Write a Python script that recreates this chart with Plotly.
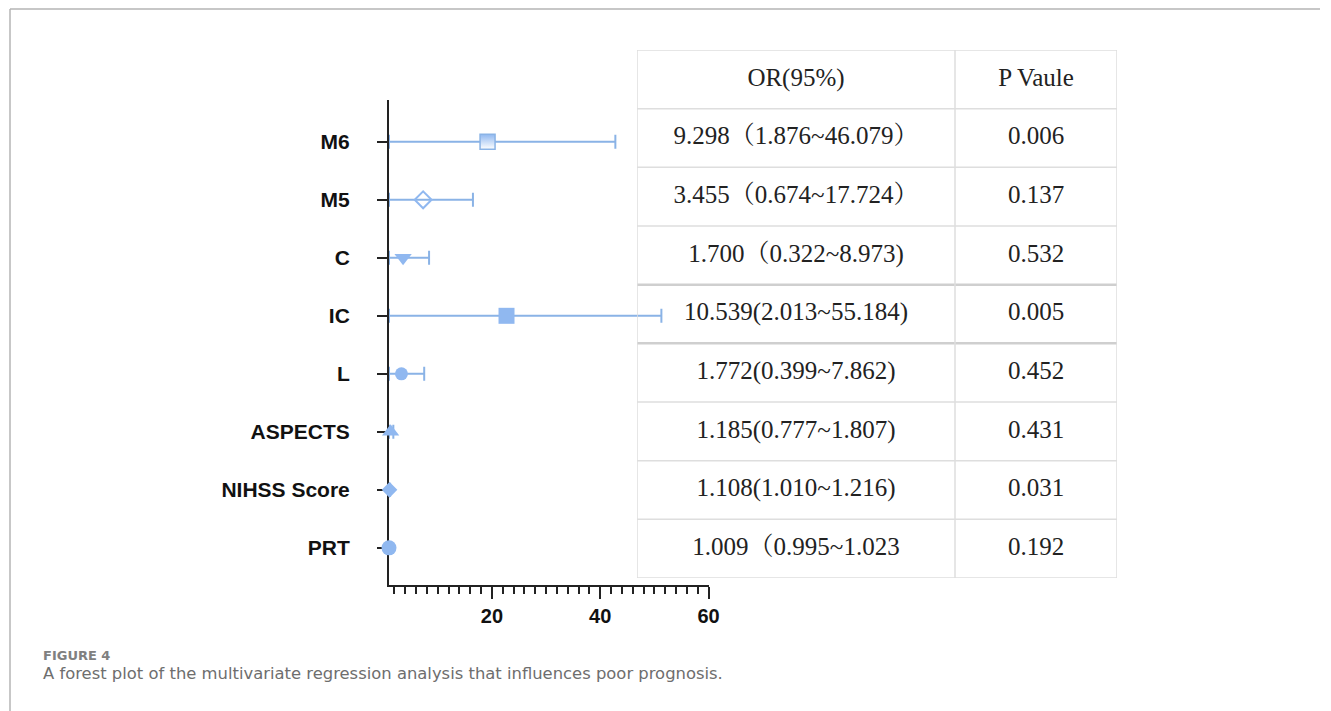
import plotly.graph_objects as go

# ---------------- data ----------------
variables = ["M6", "M5", "C", "IC", "L", "ASPECTS", "NIHSS Score", "PRT"]
# positions as drawn in the forest panel
plot_est = [19.2, 7.3, 3.6, 22.7, 3.3, 1.3, 1.1, 1.0]
plot_low = [1.0, 1.0, 1.0, 1.0, 1.0, 1.0, 1.0, 1.0]
plot_up = [42.8, 16.5, 8.4, 51.3, 7.5, 1.8, 1.2, 1.02]

or_text = ["9.298（1.876~46.079）", "3.455（0.674~17.724）", "1.700（0.322~8.973)",
           "10.539(2.013~55.184)", "1.772(0.399~7.862)", "1.185(0.777~1.807)",
           "1.108(1.010~1.216)", "1.009（0.995~1.023"]
p_text = ["0.006", "0.137", "0.532", "0.005", "0.452", "0.431", "0.031", "0.192"]
header = ["OR(95%)", "P Vaule"]

x_ticks = [20, 40, 60]
caption_label = "FIGURE 4"
caption_text = "A forest plot of the multivariate regression analysis that influences poor prognosis."

# ---------------- styles ----------------
W, H = 1331, 711
WX = 1320  # effective horizontal extent used for paper fractions
LINE_C = "#8ab3e6"
FILL_C = "#90b8f0"
symbols = ["square", "diamond-open", "triangle-down", "square", "circle",
           "triangle-up", "diamond", "circle"]
sizes = [15, 13, 15, 16, 13, 15, 12, 15]

n = len(variables)
ypos = list(range(n, 0, -1))

fig = go.Figure()

for i in range(n):
    marker = dict(symbol=symbols[i], size=sizes[i], color=FILL_C,
                  line=dict(color=FILL_C, width=2 if "open" in symbols[i] else 0))
    if i == 0:
        marker["gradient"] = dict(type="vertical", color="white")
        marker["line"] = dict(color=LINE_C, width=1.5)
    fig.add_trace(go.Scatter(
        x=[plot_est[i]], y=[ypos[i]], mode="markers",
        marker=marker,
        error_x=dict(type="data", symmetric=False,
                     array=[plot_up[i] - plot_est[i]],
                     arrayminus=[plot_est[i] - plot_low[i]],
                     color=LINE_C, thickness=2, width=7),
        xaxis="x", yaxis="y", showlegend=False, cliponaxis=False,
    ))

# ---------------- table panel ----------------
col_split = 0.6625
col1_x = col_split / 2
col2_x = (col_split + 1) / 2
n_rows = n + 1
row_c = [n_rows - 0.5 - k for k in range(n_rows)]

fig.add_trace(go.Scatter(
    x=[col1_x] * n_rows, y=row_c, mode="text",
    text=[header[0]] + or_text, textposition="middle center",
    textfont=dict(family="Liberation Serif, Noto Serif CJK SC, serif", size=25, color="#222"),
    xaxis="x2", yaxis="y2", showlegend=False, cliponaxis=False, hoverinfo="skip"))
fig.add_trace(go.Scatter(
    x=[col2_x] * n_rows, y=row_c, mode="text",
    text=[header[1]] + p_text, textposition="middle center",
    textfont=dict(family="Liberation Serif, serif", size=25, color="#222"),
    xaxis="x2", yaxis="y2", showlegend=False, cliponaxis=False, hoverinfo="skip"))

shapes = []
for k in range(n_rows + 1):
    thick = k in (4, 5)
    shapes.append(dict(type="line", xref="x2", yref="y2", x0=0, x1=1, y0=k, y1=k,
                       line=dict(color="#cfcfcf" if thick else "#dedede", width=2.5 if thick else 1.5),
                       layer="below"))
for xv in (0, col_split, 1):
    shapes.append(dict(type="line", xref="x2", yref="y2", x0=xv, x1=xv, y0=0, y1=n_rows,
                       line=dict(color="#dedede", width=1.5), layer="below"))

# outer card frame
shapes.append(dict(type="line", xref="paper", yref="paper", x0=10 / WX, x1=1, y0=1 - 9 / H, y1=1 - 9 / H,
                   line=dict(color="#b5b5b5", width=1.5)))
shapes.append(dict(type="line", xref="paper", yref="paper", x0=10 / WX, x1=10 / WX, y0=0, y1=1 - 9 / H,
                   line=dict(color="#b5b5b5", width=1.5)))

annotations = [
    dict(text=caption_label, xref="paper", yref="paper", x=42 / WX, y=1 - 655.5 / H,
         xanchor="left", yanchor="middle", showarrow=False, borderpad=0,
         font=dict(family="DejaVu Sans, sans-serif", size=13, color="#808080", weight="bold")),
    dict(text=caption_text, xref="paper", yref="paper", x=42 / WX, y=1 - 673 / H,
         xanchor="left", yanchor="middle", showarrow=False, borderpad=0,
         font=dict(family="DejaVu Sans, sans-serif", size=16.4, color="#6e6e6e")),
]

fig.update_layout(
    width=W, height=H, autosize=False,
    margin=dict(l=0, r=0, t=0, b=0),
    paper_bgcolor="white", plot_bgcolor="rgba(0,0,0,0)",
    shapes=shapes, annotations=annotations,
    xaxis=dict(domain=[389 / WX, 708.5 / WX], range=[1, 60], tickvals=x_ticks,
               ticktext=[str(t) for t in x_ticks],
               showgrid=False, zeroline=False, showline=True, linecolor="#222", linewidth=2,
               ticks="outside", ticklen=12, tickwidth=2, tickcolor="#222",
               tickfont=dict(family="Liberation Sans, Arial", size=20, color="#111", weight="bold"),
               minor=dict(dtick=2, tick0=0, ticks="outside", ticklen=7, tickwidth=1.5, tickcolor="#222"),
               layer="below traces", anchor="y", fixedrange=True),
    yaxis=dict(domain=[1 - 585 / H, 1 - 100 / H], range=[0.36, 8.72],
               tickvals=ypos, ticktext=variables,
               showgrid=False, zeroline=False, showline=True, linecolor="#222", linewidth=2,
               ticks="outside", ticklen=10, tickwidth=1.5, tickcolor="#222",
               ticklabelstandoff=23,
               tickfont=dict(family="Liberation Sans, Arial", size=21, color="#111", weight="bold"),
               layer="below traces", anchor="x", fixedrange=True),
    xaxis2=dict(domain=[637 / WX, 1117 / WX], range=[0, 1], visible=False, anchor="y2", fixedrange=True),
    yaxis2=dict(domain=[1 - 578 / H, 1 - 50 / H], range=[0, n_rows], visible=False, anchor="x2", fixedrange=True),
)

fig.write_html("out.html")
